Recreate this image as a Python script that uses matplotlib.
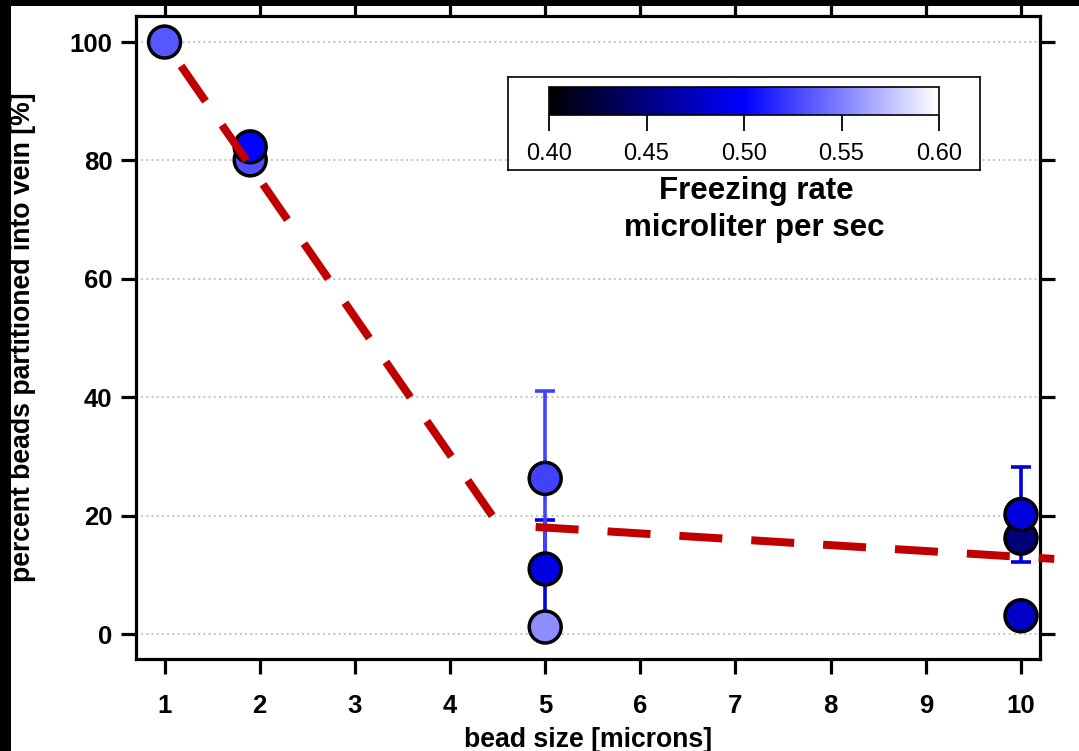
import numpy as np
import matplotlib
matplotlib.use("Agg")
import matplotlib.pyplot as plt
from matplotlib.colors import LinearSegmentedColormap
from matplotlib.patches import Rectangle
import matplotlib.cm as cm

plt.rcParams['font.family'] = ['Liberation Sans', 'DejaVu Sans']

# ---- data ----
bead_size = [1, 1.9, 1.9, 5, 5, 5, 10, 10, 10]
percent_in_vein = [100, 80.1, 82.3, 26.3, 11.0, 1.2, 16.2, 20.2, 3.1]
freezing_rate = [0.534, 0.531, 0.50, 0.525, 0.488, 0.555, 0.447, 0.486, 0.478]
error = [0, 0, 0, 14.8, 8.3, 0, 0, 8.0, 0]

fit1_x = [1, 4.53]
fit1_y = [100, 18.0]
fit2_x = [4.9, 10.35]
fit2_y = [18.1, 12.7]

x_ticks = [1, 2, 3, 4, 5, 6, 7, 8, 9, 10]
y_ticks = [0, 20, 40, 60, 80, 100]
cbar_ticks = [0.40, 0.45, 0.50, 0.55, 0.60]

W, H = 1079, 751
fig = plt.figure(figsize=(W / 100, H / 100), dpi=100)
fig.patch.set_facecolor('white')

def fx(px):
    return px / W

def fy(py):
    return 1 - py / H

ax = fig.add_axes([fx(136), fy(659), fx(1040) - fx(136), fy(16) - fy(659)])

cmap = LinearSegmentedColormap.from_list('bkbw', [(0, 0, 0), (0, 0, 1), (1, 1, 1)])
norm = matplotlib.colors.Normalize(vmin=0.40, vmax=0.60)

ax.yaxis.grid(True, linestyle=(0, (1.2, 2.2)), color='#b0b0b0', linewidth=1.1, zorder=0)
ax.set_axisbelow(True)

# error bars (drawn in reverse order so upper bars sit on top)
for xv, yv, cv, ev in reversed(list(zip(bead_size, percent_in_vein, freezing_rate, error))):
    if ev > 0:
        col = cmap(norm(cv))
        ax.errorbar([xv], [yv], yerr=[ev], fmt='none', ecolor=col, elinewidth=2.6,
                    capsize=7, capthick=2.6, zorder=2, clip_on=False)

ax.scatter(bead_size, percent_in_vein, c=freezing_rate, cmap=cmap, norm=norm,
           s=23 ** 2, edgecolors='black', linewidths=2.5, zorder=3, clip_on=False)

lw_px = 8.0
lw_pt = lw_px * 0.72
on, off = 43 / lw_px, 29 / lw_px
ax.plot(fit1_x, fit1_y, color='#c00000', linewidth=lw_pt, solid_capstyle='butt',
        dash_capstyle='butt', linestyle=(on, (on, off)), zorder=4, clip_on=False)
ax.plot(fit2_x, fit2_y, color='#c00000', linewidth=lw_pt, solid_capstyle='butt',
        dash_capstyle='butt', linestyle=(0, (on, off)), zorder=4, clip_on=False)

ax.set_xlim(0.70, 10.2)
ax.set_ylim(-4.2, 104.4)
ax.set_xticks(x_ticks)
ax.set_yticks(y_ticks)
ax.set_xticklabels([str(t) for t in x_ticks])
ax.set_yticklabels([str(t) for t in y_ticks])

for sp in ax.spines.values():
    sp.set_linewidth(2.3)
ax.tick_params(axis='both', which='major', direction='out', length=11, width=2.3,
               top=True, right=True, labelsize=18.5)
ax.tick_params(axis='x', pad=14)
ax.tick_params(axis='y', pad=6)
for lab in ax.get_xticklabels() + ax.get_yticklabels():
    lab.set_fontweight('bold')

ax.set_xlabel('bead size [microns]', fontsize=19.2, fontweight='bold')
ax.xaxis.set_label_coords(0.5, (659 - 740) / 643)
ax.xaxis.label.set_va('center')
ax.set_ylabel('percent beads partitioned into vein [%]', fontsize=19.2, fontweight='bold')
ax.yaxis.set_label_coords((23 - 136) / 904, 0.5)
ax.yaxis.label.set_va('center')

# colorbar frame
frame = fig.add_axes([fx(508), fy(170), fx(980) - fx(508), fy(77) - fy(170)])
frame.set_xticks([])
frame.set_yticks([])
frame.set_facecolor('white')
for sp in frame.spines.values():
    sp.set_linewidth(1.2)

cax = fig.add_axes([fx(549), fy(115), fx(939) - fx(549), fy(87) - fy(115)])
sm = cm.ScalarMappable(norm=norm, cmap=cmap)
cb = fig.colorbar(sm, cax=cax, orientation='horizontal', ticks=cbar_ticks)
cb.outline.set_linewidth(1.2)
cax.set_xticklabels(['%.2f' % t for t in cbar_ticks])
cax.tick_params(axis='x', direction='out', length=11.5, width=1.3, labelsize=17, pad=9)

fig.text(fx(756), fy(191), 'Freezing rate', ha='center', va='center', fontsize=22.5, fontweight='bold')
fig.text(fx(754), fy(228), 'microliter per sec', ha='center', va='center', fontsize=22.5, fontweight='bold')

# black border bands
fig.add_artist(Rectangle((0, fy(6)), 1, 6 / H, transform=fig.transFigure,
                         facecolor='black', edgecolor='none', zorder=20))
fig.add_artist(Rectangle((0, 0), 11 / W, 1, transform=fig.transFigure,
                         facecolor='black', edgecolor='none', zorder=20))

fig.savefig('out.png', dpi=100)
